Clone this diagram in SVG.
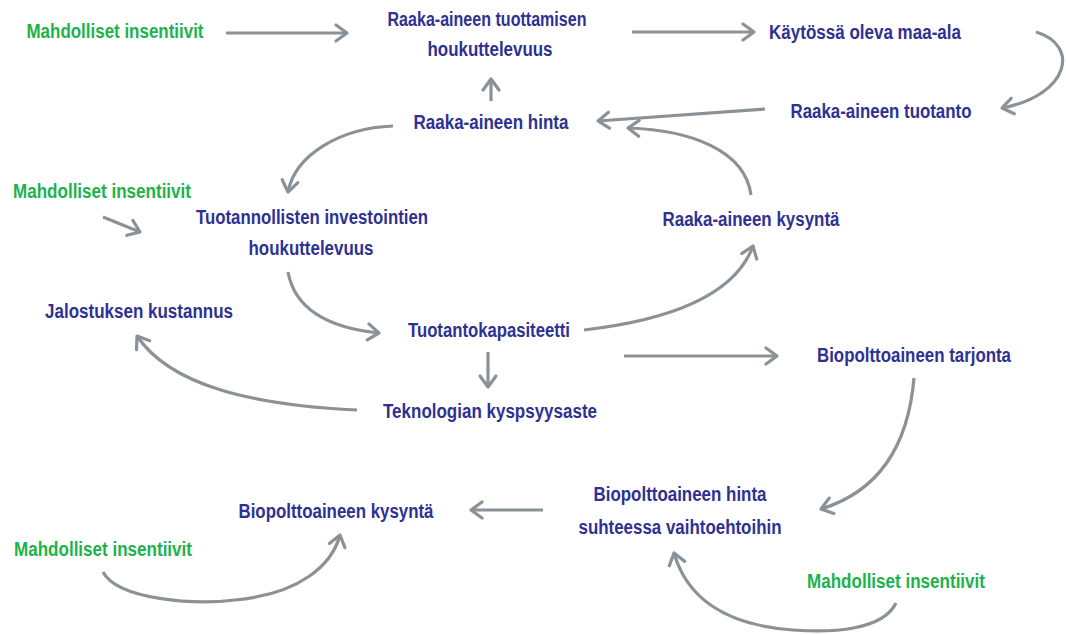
<svg xmlns="http://www.w3.org/2000/svg" width="1066" height="635" viewBox="0 0 1066 635">
<defs>
<marker id="ah" markerUnits="userSpaceOnUse" markerWidth="30" markerHeight="30" viewBox="-15 -15 30 30" refX="0" refY="0" orient="auto">
<path d="M-11,-8 L0,0 L-11,8" fill="none" stroke="#8a9297" stroke-width="3.2" stroke-linejoin="round" stroke-linecap="round"/>
</marker>
<style>
text{font-family:"Liberation Sans",Arial,sans-serif;font-weight:bold;font-size:19.5px;text-anchor:middle}
.b{fill:#2e3192}
.g{fill:#1db24b}
.c path{fill:none;stroke:#8a9297;stroke-width:3.2;marker-end:url(#ah)}
</style>
</defs>
<rect width="1066" height="635" fill="#ffffff"/>
<g class="c" id="connectors">
<path d="M226,33 L347,33"/>
<path d="M491,101 L491,79"/>
<path d="M632,32 L754,32"/>
<path d="M1036,32 C1080,45 1070,95 1002,108"/>
<path d="M765,109 L598,121"/>
<path d="M751,195 C745,150 690,130 628,128"/>
<path d="M393,126 C340,128 295,155 288,192"/>
<path d="M103,217 L140,232"/>
<path d="M288,272 C295,310 330,328 379,333"/>
<path d="M488,352 L488,387"/>
<path d="M584,330 C670,320 735,295 753,246"/>
<path d="M357,410 C250,405 170,385 137,336"/>
<path d="M624,356 L777,356"/>
<path d="M914,378 C907,460 867,495 821,509"/>
<path d="M543,510 L471,510"/>
<path d="M103,572 C118,600 195,605 235,600 C300,594 332,565 340,535"/>
<path d="M896,603 C883,630 833,633 793,630 C722,625 686,595 674,553"/>
</g>
<g id="n1"><text class="g" x="115" y="38" textLength="177" lengthAdjust="spacingAndGlyphs">Mahdolliset insentiivit</text></g>
<g id="n2"><text class="b" x="487" y="26" textLength="199" lengthAdjust="spacingAndGlyphs">Raaka-aineen tuottamisen</text><text class="b" x="490" y="56" textLength="125" lengthAdjust="spacingAndGlyphs">houkuttelevuus</text></g>
<g id="n3"><text class="b" x="491" y="129" textLength="155" lengthAdjust="spacingAndGlyphs">Raaka-aineen hinta</text></g>
<g id="n4"><text class="b" x="865" y="39" textLength="192" lengthAdjust="spacingAndGlyphs">Käytössä oleva maa-ala</text></g>
<g id="n5"><text class="b" x="881" y="118" textLength="181" lengthAdjust="spacingAndGlyphs">Raaka-aineen tuotanto</text></g>
<g id="n6"><text class="g" x="102" y="198" textLength="178" lengthAdjust="spacingAndGlyphs">Mahdolliset insentiivit</text></g>
<g id="n7"><text class="b" x="312" y="224" textLength="232" lengthAdjust="spacingAndGlyphs">Tuotannollisten investointien</text><text class="b" x="311" y="255" textLength="125" lengthAdjust="spacingAndGlyphs">houkuttelevuus</text></g>
<g id="n8"><text class="b" x="139" y="318" textLength="188" lengthAdjust="spacingAndGlyphs">Jalostuksen kustannus</text></g>
<g id="n9"><text class="b" x="489" y="337" textLength="162" lengthAdjust="spacingAndGlyphs">Tuotantokapasiteetti</text></g>
<g id="n10"><text class="b" x="490" y="418" textLength="214" lengthAdjust="spacingAndGlyphs">Teknologian kyspsyysaste</text></g>
<g id="n11"><text class="b" x="751" y="226" textLength="177" lengthAdjust="spacingAndGlyphs">Raaka-aineen kysyntä</text></g>
<g id="n12"><text class="b" x="914" y="362" textLength="194" lengthAdjust="spacingAndGlyphs">Biopolttoaineen tarjonta</text></g>
<g id="n13"><text class="b" x="336" y="518" textLength="195" lengthAdjust="spacingAndGlyphs">Biopolttoaineen kysyntä</text></g>
<g id="n14"><text class="g" x="103" y="556" textLength="178" lengthAdjust="spacingAndGlyphs">Mahdolliset insentiivit</text></g>
<g id="n15"><text class="b" x="680" y="501" textLength="173" lengthAdjust="spacingAndGlyphs">Biopolttoaineen hinta</text><text class="b" x="680" y="534" textLength="203" lengthAdjust="spacingAndGlyphs">suhteessa vaihtoehtoihin</text></g>
<g id="n16"><text class="g" x="896" y="588" textLength="178" lengthAdjust="spacingAndGlyphs">Mahdolliset insentiivit</text></g>
</svg>
